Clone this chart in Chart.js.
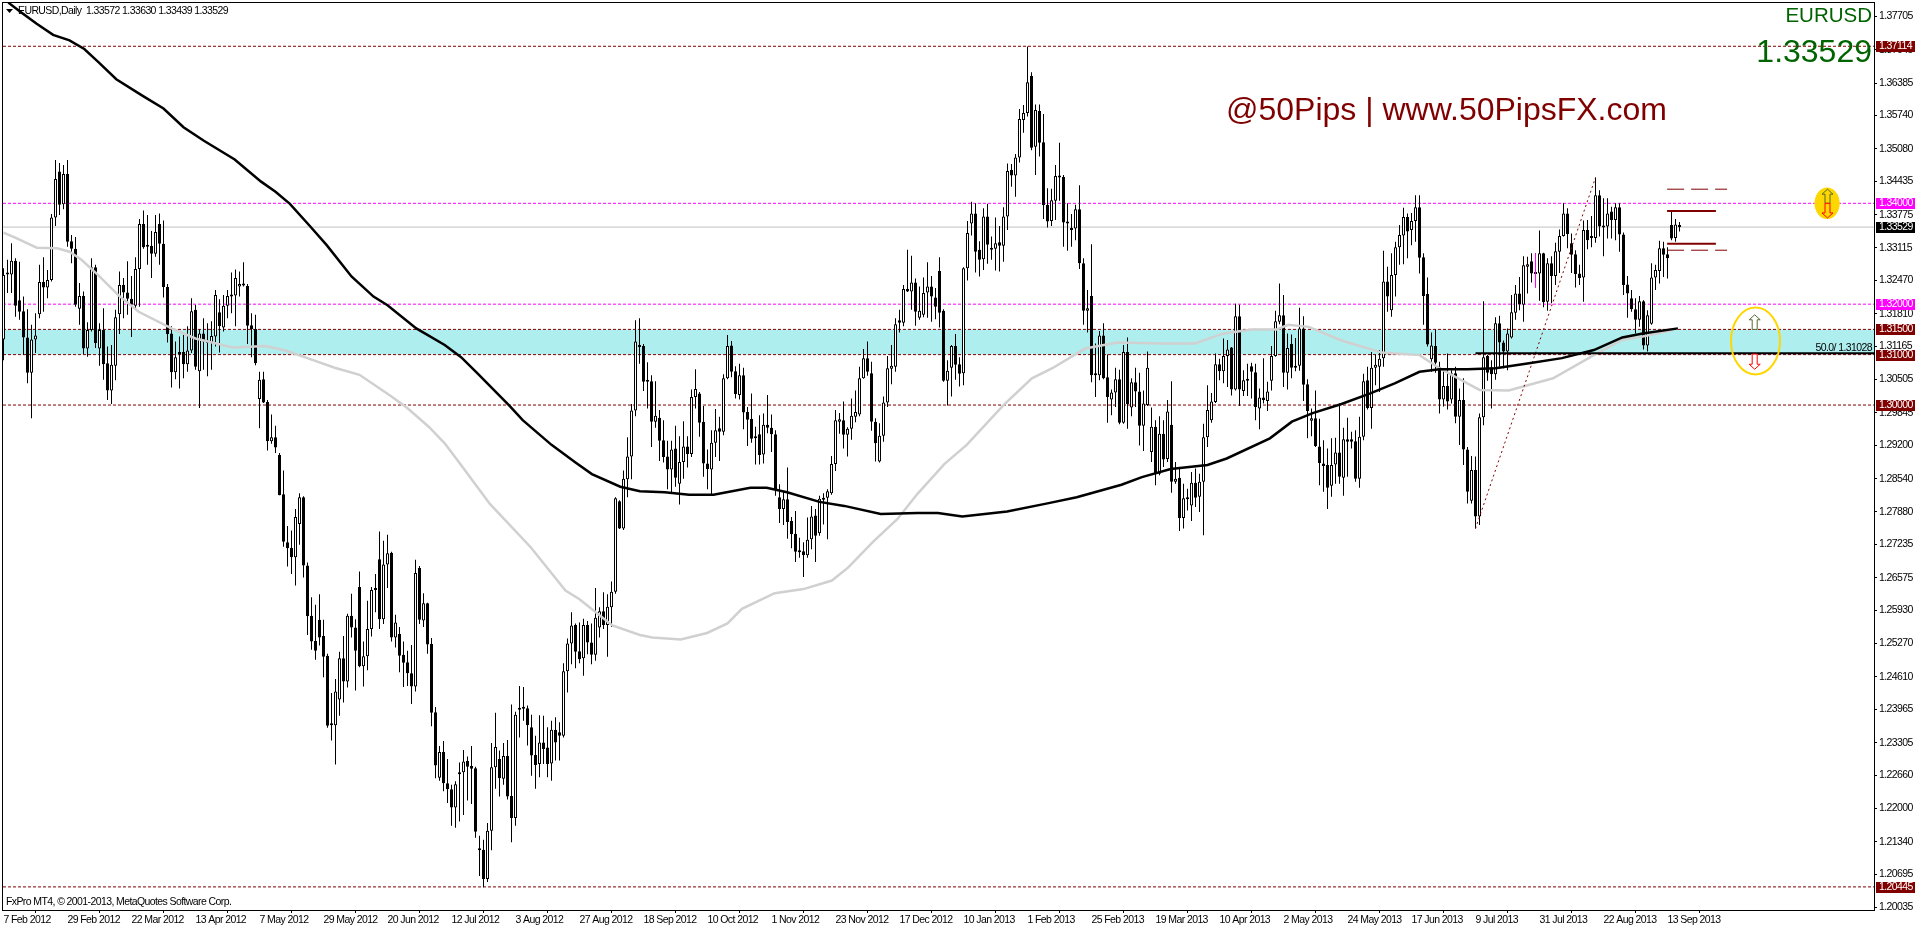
<!DOCTYPE html>
<html>
<head>
<meta charset="utf-8">
<title>EURUSD Daily</title>
<script src="https://cdn.jsdelivr.net/npm/chart.js@4"></script>
<style>
  html, body { margin: 0; padding: 0; background: #fff; overflow: hidden; }
  canvas { display: block; }
</style>
</head>
<body>
<canvas id="eurChart" width="1916" height="928"></canvas>
<script>
// EURUSD daily candles, prices (price x 10000)
const opens = [
13130,13261,13259,13286,13208,13186,13134,13064,13130,13180,13244,13233,13248,13372,13463,13398,13458,13325,13310,13191,
13216,13112,13149,13273,13112,13149,13083,13029,13078,13180,13238,13223,13211,13197,13270,13359,13317,13316,13300,13359,
13320,13234,13142,13065,13101,13105,13081,13108,13189,13067,13142,13128,13123,13136,13184,13154,13197,13218,13217,13235,
13240,13236,13158,13151,13012,13051,13006,12928,12936,12901,12823,12728,12717,12698,12764,12817,12682,12582,12532,12574,
12542,12503,12366,12365,12416,12498,12452,12582,12559,12639,12482,12502,12556,12633,12694,12575,12684,12707,12539,12546,
12505,12490,12468,12442,12677,12573,12607,12526,12391,12261,12312,12250,12238,12202,12268,12272,12294,12284,12280,12119,
12118,12060,12156,12282,12298,12259,12304,12225,12181,12399,12401,12399,12361,12306,12288,12331,12321,12289,12356,12351,
12344,12472,12527,12564,12512,12498,12564,12529,12505,12559,12591,12564,12599,12630,12809,12755,12853,12898,12989,13118,
13117,13047,13047,12967,12975,12930,12898,12872,12914,12844,12887,12918,12903,13016,13023,12967,12884,12872,12925,12954,
12947,13053,13118,13067,13020,13059,12986,12973,12934,12942,12902,12961,12955,12942,12817,12794,12813,12770,12745,12710,
12710,12702,12734,12781,12746,12815,12816,12825,12883,12967,12970,12941,12953,12977,12981,13053,13093,13063,12967,12888,
12939,13005,13072,13076,13168,13163,13230,13225,13243,13173,13179,13223,13235,13213,13266,13187,13048,13074,13117,13081,
13063,13271,13360,13380,13308,13289,13374,13311,13310,13323,13316,13374,13466,13455,13491,13565,13579,13653,13512,13583,
13521,13397,13365,13405,13454,13452,13363,13351,13350,13388,13281,13187,13216,13061,13059,13138,13055,13011,13025,13051,
12965,13105,12995,13045,13027,12959,13000,12907,12957,12864,12943,12893,12961,12848,12856,12776,12813,12801,12846,12818,
12848,12936,12970,13006,13081,13067,13097,13114,13031,13176,13028,13051,13077,13065,12993,13015,13008,13048,13097,13165,
13178,13064,13121,13076,13078,13152,13041,12969,12974,12918,12884,12881,12840,12882,12906,12856,12932,12932,12928,12854,
12937,13049,12994,13074,13076,13093,13245,13188,13258,13313,13336,13373,13347,13365,13392,13293,13220,13091,13117,13075,
13011,13038,13011,13063,12977,13010,12912,12810,12871,12779,12976,13097,13075,13061,13162,13124,13106,13134,13183,13221,
13199,13274,13285,13262,13261,13301,13205,13281,13256,13304,13335,13380,13321,13299,13261,13253,13347,13335,13331,13416,
13355,13354,13384,13367,13392,13338,13239,13212,13190,13169,13206,13118,13161,13253,13266,13311,13299,13357,13331,13357.2];
const highs = [
13271,13288,13321,13291,13284,13215,13190,13159,13182,13278,13293,13268,13379,13486,13480,13476,13486,13337,13333,13242,
13225,13164,13291,13278,13162,13192,13116,13119,13189,13265,13252,13285,13256,13293,13369,13386,13377,13345,13377,13380,
13366,13240,13156,13126,13136,13139,13156,13212,13199,13150,13172,13162,13166,13228,13210,13218,13228,13263,13269,13265,
13283,13240,13182,13179,13066,13066,13010,12981,12959,12905,12870,12760,12751,12794,12825,12819,12688,12619,12604,12625,
12574,12507,12429,12457,12511,12542,12586,12626,12575,12670,12531,12612,12639,12665,12749,12731,12743,12709,12584,12560,
12531,12513,12524,12693,12681,12627,12608,12538,12401,12324,12334,12298,12247,12254,12291,12316,12303,12324,12283,12146,
12138,12171,12330,12390,12315,12330,12336,12406,12392,12443,12441,12404,12386,12344,12385,12384,12361,12374,12381,12371,
12488,12537,12589,12567,12569,12576,12572,12567,12637,12599,12629,12625,12650,12817,12811,12870,12936,13002,13168,13172,
13121,13085,13059,13047,12990,12970,12929,12929,12959,12938,12968,12938,13031,13071,13026,12998,12912,12950,12992,12977,
13061,13139,13127,13077,13082,13074,12996,13023,12957,12980,12983,13020,12981,12950,12843,12828,12876,12778,12790,12737,
12728,12777,12800,12794,12820,12825,12833,12899,12990,12984,13007,12956,13013,13029,13076,13111,13126,13086,12974,12964,
13017,13097,13119,13172,13189,13238,13308,13296,13251,13235,13253,13283,13256,13232,13293,13190,13089,13119,13141,13095,
13273,13365,13403,13400,13325,13390,13399,13334,13372,13355,13392,13479,13478,13498,13587,13595,13711,13660,13596,13596,
13577,13430,13429,13476,13520,13456,13400,13379,13397,13436,13291,13228,13319,13122,13147,13162,13100,13031,13074,13070,
13119,13134,13053,13074,13064,13029,13106,12995,12970,12978,12970,13010,13047,12887,12874,12844,12834,12867,12874,12864,
12963,13039,13024,13102,13092,13132,13129,13115,13201,13199,13069,13082,13084,13082,13033,13093,13046,13117,13187,13241,
13218,13142,13140,13133,13193,13176,13051,12993,13029,12973,12930,12914,12934,12935,13003,12955,12975,12947,12950,12977,
13062,13076,13105,13100,13109,13306,13274,13301,13324,13357,13391,13380,13381,13416,13416,13301,13253,13144,13150,13086,
13069,13102,13069,13076,13033,13053,12917,12899,12898,12983,13206,13099,13089,13174,13177,13128,13152,13218,13238,13254,
13295,13294,13301,13301,13346,13302,13291,13295,13322,13348,13400,13390,13340,13307,13278,13366,13367,13375,13451,13426,
13410,13410,13393,13400,13400,13342,13256,13228,13212,13216,13208,13188,13281,13278,13326,13324,13313,13383,13369,13363];
const lows = [
13089,13222,13222,13175,13169,13099,13043,12974,13103,13172,13185,13212,13245,13355,13377,13388,13314,13281,13195,13159,
13101,13096,13146,13113,13078,13050,13010,13002,13049,13141,13172,13179,13135,13192,13195,13310,13278,13252,13294,13278,
13213,13124,13035,13051,13033,13053,13066,13103,13070,12994,13070,13057,13070,13116,13104,13146,13172,13182,13156,13215,
13235,13121,13095,13079,12954,13004,12910,12923,12905,12821,12719,12680,12665,12642,12723,12658,12544,12515,12495,12523,
12460,12360,12335,12287,12384,12410,12440,12539,12434,12480,12442,12474,12541,12589,12556,12566,12637,12531,12519,12470,
12441,12443,12407,12432,12566,12560,12507,12363,12260,12255,12234,12211,12166,12162,12174,12187,12216,12209,12142,12066,
12044,12054,12117,12239,12224,12247,12218,12133,12166,12341,12374,12325,12265,12239,12262,12288,12262,12255,12295,12295,
12341,12430,12486,12478,12488,12463,12506,12486,12493,12539,12556,12501,12560,12626,12754,12752,12817,12853,12978,13082,
13028,12993,12917,12955,12889,12886,12833,12827,12838,12803,12854,12876,12897,12993,12937,12858,12833,12823,12897,12889,
12940,13051,13055,13013,13011,12952,12919,12925,12882,12882,12884,12944,12907,12820,12766,12762,12735,12716,12689,12697,
12659,12697,12714,12689,12741,12763,12734,12822,12869,12943,12914,12898,12931,12966,12978,13052,13058,12949,12888,12886,
12927,12996,13041,13066,13144,13156,13224,13189,13157,13169,13174,13173,13165,13170,13154,13046,12999,13017,13050,13037,
13039,13247,13336,13263,13255,13268,13280,13288,13267,13265,13284,13347,13433,13413,13481,13540,13572,13505,13456,13493,
13369,13352,13355,13367,13405,13314,13306,13314,13327,13270,13159,13144,13045,13016,13049,13051,12965,12980,12996,12962,
12963,12953,12978,12996,12920,12909,12998,12887,12841,12861,12877,12887,12826,12844,12750,12755,12791,12770,12798,12788,
12742,12917,12965,13004,13049,13043,13036,13019,13029,12998,13018,13018,13013,12970,12952,13003,12988,13029,13096,13160,
13036,13031,13053,13067,13068,13008,12934,12938,12917,12841,12828,12794,12818,12844,12844,12820,12858,12914,12848,12836,
12930,12991,12953,13039,13026,13076,13185,13175,13215,13278,13279,13291,13317,13324,13261,13159,13116,13066,13064,12983,
12997,12991,13003,12964,12921,12881,12805,12805,12755,12762,12960,13048,12993,13050,13076,13073,13069,13132,13169,13188,
13165,13221,13243,13233,13207,13194,13187,13202,13238,13262,13334,13311,13262,13233,13238,13205,13309,13313,13322,13334,
13295,13330,13330,13327,13304,13218,13173,13185,13142,13155,13110,13106,13159,13228,13241,13254,13251,13327,13324,13343.9];
const closes = [
13258,13259,13286,13197,13185,13134,13064,13130,13138,13244,13233,13248,13372,13448,13397,13458,13324,13310,13199,13216,
13112,13149,13273,13123,13149,13081,13029,13080,13174,13238,13223,13211,13199,13270,13359,13313,13314,13300,13343,13320,
13234,13141,13065,13095,13105,13081,13108,13186,13076,13142,13126,13123,13137,13218,13156,13197,13216,13215,13252,13240,
13237,13157,13151,13083,13050,13005,12928,12936,12916,12821,12729,12716,12698,12778,12817,12682,12581,12531,12513,12539,
12501,12364,12365,12432,12498,12452,12582,12559,12513,12482,12502,12556,12633,12637,12575,12684,12706,12539,12569,12503,
12489,12468,12442,12667,12574,12607,12525,12390,12285,12312,12250,12238,12202,12248,12272,12293,12283,12279,12154,12117,
12060,12156,12282,12322,12260,12304,12224,12181,12386,12396,12398,12365,12305,12286,12331,12318,12288,12356,12331,12344,
12472,12527,12563,12511,12496,12564,12529,12505,12578,12591,12564,12600,12630,12815,12755,12854,12898,12989,13126,13115,
13046,13046,12967,12979,12929,12897,12872,12912,12856,12887,12918,12903,13016,13032,12965,12884,12873,12925,12950,12947,
13053,13117,13066,13022,13059,12985,12971,12933,12938,12901,12961,12955,12942,12833,12794,12813,12768,12744,12709,12708,
12702,12733,12779,12741,12814,12812,12829,12883,12970,12972,12941,12953,12979,12986,13053,13093,13066,12967,12924,12939,
13005,13073,13078,13160,13163,13230,13225,13243,13185,13187,13222,13235,13215,13195,13183,13048,13068,13117,13080,13062,
13271,13341,13380,13304,13288,13374,13318,13308,13321,13316,13374,13464,13455,13491,13567,13579,13640,13510,13585,13520,
13396,13364,13406,13454,13451,13362,13360,13347,13388,13281,13187,13192,13059,13059,13138,13053,13016,13025,13051,12965,
13105,13002,13045,13027,12959,13003,13074,12957,12864,12943,12892,12987,12848,12854,12776,12815,12817,12846,12816,12848,
12936,12990,13007,13081,13067,13097,13110,13031,13176,13031,13049,13048,13066,12996,13015,13010,13027,13097,13166,13178,
13064,13113,13074,13074,13152,13040,12988,12974,12919,12885,12879,12836,12881,12906,12858,12932,12927,12927,12854,12937,
13047,12994,13074,13080,13092,13245,13215,13258,13313,13337,13373,13344,13365,13392,13292,13216,13120,13118,13084,13011,
13038,13007,13063,12977,13010,12912,12828,12871,12779,12976,13095,13064,13061,13162,13124,13106,13142,13184,13221,13200,
13277,13279,13261,13260,13301,13204,13281,13256,13305,13335,13380,13339,13298,13260,13252,13347,13327,13331,13416,13354,
13352,13380,13367,13392,13338,13238,13221,13190,13169,13206,13118,13178,13253,13268,13311,13298,13291,13330,13358,13352.9];

// moving averages, read at a few bars along each curve
const slowMaBars = [1.2,4.2,8.3,12.4,16.5,20.2,23.6,28.2,34.8,40,45,50.1,57.8,64.4,68,71.6,76.7,80.8,87,92.5,96,103.2,110.3,114.4,118.5,126.7,129.8,137,143,147.1,154.2,159.1,165.3,171.4,177.5,186.7,190.8,195.9,204,210.2,219.3,228.5,233.6,239.7,250.9,261,268.3,279.5,284.6,291.8,301,305.8,316.6,322.1,327.3,334.5,341.7,347.8,354,359,366,373,381.4,389.6,397.6,404.7,409.8,418.6];
const slowMaVals = [1.3798,1.3780,1.3756,1.3734,1.3723,1.3706,1.3681,1.3646,1.3613,1.3588,1.3551,1.3524,1.3487,1.3443,1.3423,1.3399,1.3354,1.3317,1.3255,1.3215,1.3198,1.3152,1.3119,1.3095,1.3063,1.2997,1.2970,1.2921,1.2886,1.2863,1.2838,1.2829,1.2827,1.2822,1.2822,1.2836,1.2836,1.2827,1.2808,1.2800,1.2784,1.2786,1.2786,1.2779,1.2789,1.2805,1.2817,1.2842,1.2857,1.2873,1.2881,1.2894,1.2934,1.2967,1.2984,1.3002,1.3023,1.3043,1.3066,1.3071,1.3071,1.3073,1.3083,1.3093,1.3109,1.3134,1.3142,1.3152];
const fastMaBars = [0,3.2,8.3,13.4,16.5,19.5,23.6,28.7,33.8,42,48,57.3,65.5,70.5,76.7,82.8,89,97,101.1,106.3,110.3,114.2,121.6,131.8,140.5,144,152.2,159.1,162.2,169.3,175.9,181,184.6,192.8,200,207.1,211.2,217.3,223.5,228.5,235.2,240.8,250,257.1,262.2,270.4,278.5,289.7,297.9,305,312.2,318.3,321.2,326.3,334.5,344.6,354,359,369,376.3,387.4,397.6,404.7,409.8,417.6];
const fastMaVals = [1.3342,1.3331,1.3312,1.3311,1.3304,1.3288,1.3258,1.3218,1.3185,1.3152,1.3132,1.3114,1.3117,1.3108,1.3091,1.3074,1.3060,1.3017,1.2993,1.2957,1.2924,1.2883,1.2804,1.2718,1.2632,1.2615,1.2563,1.2544,1.2539,1.2535,1.2548,1.2567,1.2596,1.2627,1.2635,1.2652,1.2678,1.2728,1.2774,1.2824,1.2883,1.2921,1.3000,1.3053,1.3073,1.3112,1.3124,1.3122,1.3122,1.3142,1.3150,1.3150,1.3159,1.3155,1.3128,1.3104,1.3099,1.3073,1.3030,1.3029,1.3053,1.3099,1.3129,1.3136,1.3149];

const dateLabels = ['7 Feb 2012','29 Feb 2012','22 Mar 2012','13 Apr 2012','7 May 2012','29 May 2012','20 Jun 2012','12 Jul 2012','3 Aug 2012','27 Aug 2012','18 Sep 2012','10 Oct 2012','1 Nov 2012','23 Nov 2012','17 Dec 2012','10 Jan 2013','1 Feb 2013','25 Feb 2013','19 Mar 2013','10 Apr 2013','2 May 2013','24 May 2013','17 Jun 2013','9 Jul 2013','31 Jul 2013','22 Aug 2013','13 Sep 2013'];
const priceTicks = [1.37705,1.37045,1.36385,1.3574,1.3508,1.34435,1.33775,1.33115,1.3247,1.3181,1.31165,1.30505,1.29845,1.292,1.2854,1.2788,1.27235,1.26575,1.2593,1.2527,1.2461,1.23965,1.23305,1.2266,1.22,1.2134,1.20695,1.20035];

const darkRedLevels = [1.37114, 1.315, 1.31, 1.3, 1.20445];
const magentaLevels = [1.34, 1.32];
const lastPrice = 1.33529;
const fibLevel = 1.31028;

const DARK_RED = '#800000';
const SMALL_FAMILY = '"Liberation Sans", sans-serif';
const SMALL_FONT = '10.5px ' + SMALL_FAMILY;
const X_MIN = -0.125, X_MAX = 467.625;
const barIndex = opens.map((_, i) => i);

const toPrice = v => v / 10000;
const pairs = (xs, ys) => xs.map((x, i) => ({ x: x, y: ys[i] }));
const hLine = (y, x0 = X_MIN, x1 = X_MAX) => [{ x: x0, y: y }, { x: x1, y: y }];
const lineSet = (data, color, width, dash, order) => ({
    type: 'line', data: data, borderColor: color, borderWidth: width,
    borderDash: dash || [], pointRadius: 0, tension: 0, order: order, parsing: false
});

const datasets = [
    // wicks
    {
        type: 'bar', order: 3, grouped: false, barThickness: 1, inflateAmount: 0,
        data: barIndex.map(i => ({ x: i, y: [toPrice(lows[i]), toPrice(highs[i])] })),
        backgroundColor: '#000', borderWidth: 0
    },
    // bodies
    {
        type: 'bar', order: 2, grouped: false, barThickness: 3, inflateAmount: 0, minBarLength: 2,
        data: barIndex.map(i => ({ x: i, y: [toPrice(opens[i]), toPrice(closes[i])] })),
        backgroundColor: barIndex.map(i => closes[i] >= opens[i] ? '#fff' : '#000'),
        borderColor: '#000', borderWidth: 1, borderSkipped: false
    },
    lineSet(pairs(fastMaBars, fastMaVals), '#d0d0d0', 2.5, null, 1),
    lineSet(pairs(slowMaBars, slowMaVals), '#000', 2.5, null, 0),
    lineSet(hLine(lastPrice), '#c0c0c0', 1, null, 5),
    lineSet(hLine(fibLevel, 368), '#000', 2, null, 0),
    lineSet([{ x: 368, y: 1.2755 }, { x: 398, y: 1.3451 }], DARK_RED, 1, [2, 3], 0),
    lineSet([{ x: 383, y: 1.3233 }, { x: 383, y: 1.3301 }], '#ff00ff', 1, null, 0),
    // range box in front of the last bars
    lineSet(hLine(1.3385, 415.9, 428.1), DARK_RED, 2, null, 0),
    lineSet(hLine(1.3320, 415.9, 428.1), DARK_RED, 2, null, 0),
    lineSet(hLine(1.3428, 415.9, 430.9), DARK_RED, 1, [17, 7], 0),
    lineSet(hLine(1.3307, 415.9, 430.9), DARK_RED, 1, [17, 7], 0)
];
darkRedLevels.forEach(l => datasets.push(lineSet(hLine(l), DARK_RED, 1, [3, 2], 4)));
magentaLevels.forEach(l => datasets.push(lineSet(hLine(l), '#ff00ff', 1, [3, 2], 4)));

const priceTags = [
    [1.37114, DARK_RED], [1.34, '#ff00ff'], [lastPrice, '#000'], [1.32, '#ff00ff'],
    [1.315, DARK_RED], [1.31, DARK_RED], [1.3, DARK_RED], [1.20445, DARK_RED]
];

function arrow(ctx, xp, tipY, baseY, color, fill) {
    const dir = baseY > tipY ? 1 : -1;
    const head = tipY + dir * 5;
    ctx.beginPath();
    ctx.moveTo(xp, tipY);
    ctx.lineTo(xp + 5.5, head);
    ctx.lineTo(xp + 2.5, head);
    ctx.lineTo(xp + 2.5, baseY);
    ctx.lineTo(xp - 2.5, baseY);
    ctx.lineTo(xp - 2.5, head);
    ctx.lineTo(xp - 5.5, head);
    ctx.closePath();
    if (fill) { ctx.fillStyle = fill; ctx.fill(); }
    ctx.strokeStyle = color;
    ctx.lineWidth = 1;
    ctx.stroke();
}

const bandPlugin = {
    id: 'band',
    // small MT4 text is narrower than anything installed, so tighten it
    beforeDraw(chart) { chart.ctx.letterSpacing = '-0.6px'; },
    beforeDatasetsDraw(chart) {
        const { ctx, chartArea, scales } = chart;
        const top = scales.y.getPixelForValue(1.315);
        const bottom = scales.y.getPixelForValue(1.31);
        ctx.fillStyle = '#afeeee';
        ctx.fillRect(chartArea.left, top, chartArea.width, bottom - top);
    }
};

const overlayPlugin = {
    id: 'overlay',
    afterDraw(chart) {
        const { ctx, chartArea, scales } = chart;
        const x = scales.x, y = scales.y;
        ctx.save();

        // frame
        ctx.strokeStyle = '#000';
        ctx.lineWidth = 1;
        ctx.strokeRect(chartArea.left - 0.5, chartArea.top + 0.5, chartArea.width + 1, chartArea.height);

        // price tags on the axis
        ctx.font = SMALL_FONT;
        ctx.textBaseline = 'middle';
        ctx.textAlign = 'left';
        priceTags.forEach(([price, color]) => {
            const py = Math.round(y.getPixelForValue(price));
            ctx.fillStyle = color;
            ctx.fillRect(1876, py - 5, 39, 11);
            ctx.fillStyle = '#fff';
            ctx.fillText(price.toFixed(5), 1879, py + 0.5);
        });

        // gold and yellow markers
        ctx.fillStyle = '#ffd700';
        ctx.beginPath();
        ctx.ellipse(x.getPixelForValue(455.9), y.getPixelForValue(1.34), 12.6, 15.7, 0, 0, Math.PI * 2);
        ctx.fill();
        ctx.strokeStyle = '#ffd700';
        ctx.lineWidth = 2;
        ctx.beginPath();
        ctx.ellipse(x.getPixelForValue(438), y.getPixelForValue(1.3127), 24.5, 33.5, 0, 0, Math.PI * 2);
        ctx.stroke();

        const upX = x.getPixelForValue(456), holX = x.getPixelForValue(437.8);
        arrow(ctx, upX, y.getPixelForValue(1.3428), y.getPixelForValue(1.34), '#556b2f', '#ffd700');
        arrow(ctx, upX, y.getPixelForValue(1.3371), y.getPixelForValue(1.34), '#ff0000', '#ffd700');
        arrow(ctx, holX, y.getPixelForValue(1.3179), y.getPixelForValue(1.315), '#556b2f', '#fff');
        arrow(ctx, holX, y.getPixelForValue(1.3071), y.getPixelForValue(1.3101), '#ff0000', '#fff');

        // chart header and footer
        ctx.fillStyle = '#000';
        ctx.font = SMALL_FONT;
        ctx.textAlign = 'left';
        ctx.fillText('EURUSD,Daily  1.33572 1.33630 1.33439 1.33529', 18, 11);
        ctx.fillText('FxPro MT4, © 2001-2013, MetaQuotes Software Corp.', 6, 902);
        ctx.beginPath();
        ctx.moveTo(6, 9); ctx.lineTo(13, 9); ctx.lineTo(9.5, 13); ctx.closePath();
        ctx.fill();
        ctx.textAlign = 'right';
        ctx.fillText('50.0/ 1.31028', 1872, y.getPixelForValue(fibLevel) - 5);

        // big labels, normal spacing
        ctx.letterSpacing = '0px';
        ctx.fillStyle = '#006400';
        ctx.font = '20.5px "Liberation Sans", sans-serif';
        ctx.fillText('EURUSD', 1872, 16);
        ctx.font = '32px "Liberation Sans", sans-serif';
        ctx.fillText('1.33529', 1872, 53);
        ctx.fillStyle = DARK_RED;
        ctx.font = '32px "Liberation Sans", sans-serif';
        ctx.textAlign = 'left';
        ctx.fillText('@50Pips | www.50PipsFX.com', 1226, 111);
        ctx.restore();
    }
};

new Chart(document.getElementById('eurChart'), {
    data: { datasets: datasets },
    options: {
        responsive: false,
        animation: false,
        events: [],
        layout: { padding: { left: 3, top: 2, right: 0, bottom: 0 } },
        plugins: { legend: { display: false }, tooltip: { enabled: false } },
        scales: {
            x: {
                type: 'linear', min: X_MIN, max: X_MAX, offset: false,
                afterBuildTicks: axis => { axis.ticks = dateLabels.map((_, i) => ({ value: i * 16 })); },
                afterFit: axis => { axis.height = 18; axis.paddingLeft = 0; axis.paddingRight = 0; },
                grid: { display: true, drawOnChartArea: false, drawTicks: true, tickLength: 3, color: '#000' },
                border: { display: false },
                ticks: {
                    autoSkip: false, maxRotation: 0, align: 'start', padding: 1, color: '#000',
                    font: { family: SMALL_FAMILY, size: 10.5 },
                    callback: v => dateLabels[v / 16]
                }
            },
            y: {
                type: 'linear', position: 'right', min: 1.19987, max: 1.37992,
                afterBuildTicks: axis => { axis.ticks = priceTicks.map(v => ({ value: v })); },
                afterFit: axis => { axis.width = 42; axis.paddingTop = 0; axis.paddingBottom = 0; },
                grid: { display: true, drawOnChartArea: false, drawTicks: true, tickLength: 3, color: '#000' },
                border: { display: false },
                ticks: {
                    autoSkip: false, padding: 2, color: '#000', maxRotation: 0,
                    font: { family: SMALL_FAMILY, size: 10.5 },
                    callback: v => v.toFixed(5)
                }
            }
        }
    },
    plugins: [bandPlugin, overlayPlugin]
});
</script>
</body>
</html>
